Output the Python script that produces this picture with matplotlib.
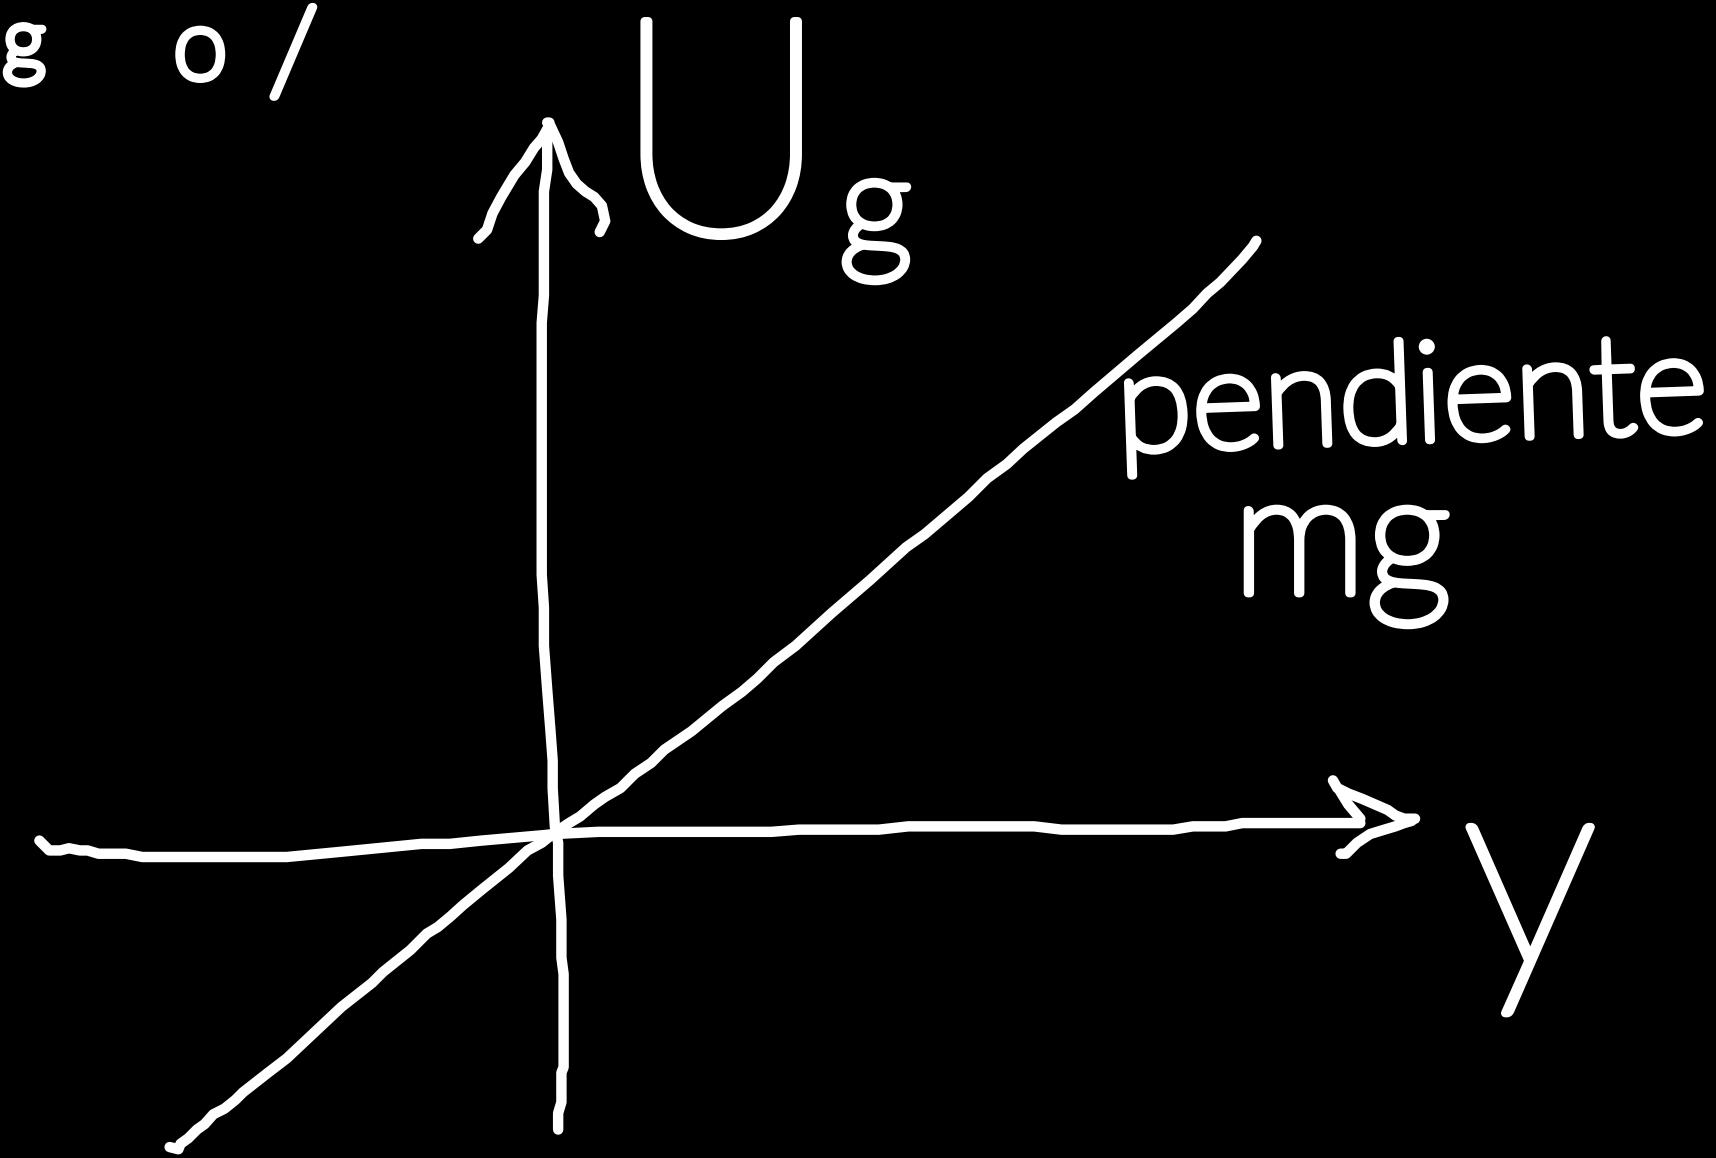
import matplotlib.pyplot as plt
import matplotlib.patheffects as pe
import numpy as np

# hand-drawn strokes, in sketch pixel units (width 1568, height 1058, y down)
vert_x = [510, 510, 513, 513, 515, 515, 513, 513, 510, 510, 507, 505, 505, 503, 500, 497, 497, 495, 495, 497, 497, 497, 500, 500, 502]
vert_y = [1032, 1017, 1007, 980, 975, 890, 875, 840, 800, 770, 755, 720, 695, 668, 630, 590, 555, 525, 295, 270, 222, 175, 155, 127, 112]

vhead_l_x = [437, 445, 450, 458, 470, 480, 488, 495, 500]
vhead_l_y = [218, 210, 195, 180, 160, 148, 135, 127, 118]
vhead_r_x = [500, 503, 510, 515, 520, 527, 535, 543, 550, 553, 548]
vhead_r_y = [112, 115, 130, 145, 158, 168, 175, 180, 188, 202, 212]

horiz_x = [36, 45, 55, 63, 73, 80, 90, 115, 130, 262, 314, 385, 411, 440, 497, 507,
           547, 705, 730, 803, 830, 945, 970, 1072, 1090, 1120, 1135, 1243]
horiz_y = [768, 777, 777, 775, 777, 777, 780, 780, 783, 783, 778, 771, 771, 768, 763, 762,
           760, 760, 758, 758, 755, 755, 758, 758, 755, 755, 752, 752]

hhead_top_x = [1218, 1222, 1232, 1245, 1268, 1275, 1283, 1293]
hhead_top_y = [713, 720, 725, 730, 740, 745, 748, 748]
hhead_in_x = [1224, 1232, 1243]
hhead_in_y = [722, 735, 748]
hhead_low_x = [1225, 1230, 1240, 1252, 1265, 1275, 1283, 1290]
hhead_low_y = [780, 780, 770, 762, 758, 755, 752, 750]

line_x = [155, 163, 165, 172, 180, 187, 195, 205, 215, 222, 245, 262, 312, 340, 350, 375,
          390, 400, 412, 423, 440, 465, 482, 495, 505, 520, 530, 543, 553, 567, 580, 595,
          607, 632, 660, 678, 692, 707, 727, 760, 795, 828, 845, 865, 885, 902, 920, 935,
          950, 965, 982, 1000, 1040, 1075, 1090, 1103, 1115, 1135, 1145, 1148]
line_y = [1048, 1050, 1045, 1040, 1032, 1027, 1018, 1013, 1005, 998, 980, 967, 920, 898, 888, 868,
          853, 847, 837, 827, 813, 793, 777, 770, 762, 752, 746, 735, 728, 720, 707, 697,
          685, 668, 645, 632, 620, 605, 590, 560, 530, 500, 488, 471, 454, 437, 424, 410,
          398, 386, 374, 358, 324, 295, 282, 268, 258, 237, 225, 220]

W, H = 1568, 1058
INK = 'white'
LW = 7.5

fig = plt.figure(figsize=(17.16, 11.58), dpi=100, facecolor='black')
ax = fig.add_axes([0, 0, 1, 1])
ax.set_facecolor('black')
ax.set_xlim(0, W)
ax.set_ylim(H, 0)
ax.axis('off')

strokes = [(vert_x, vert_y), (vhead_l_x, vhead_l_y), (vhead_r_x, vhead_r_y),
           (horiz_x, horiz_y), (hhead_top_x, hhead_top_y), (hhead_in_x, hhead_in_y),
           (hhead_low_x, hhead_low_y), (line_x, line_y)]
for xs, ys in strokes:
    ax.plot(xs, ys, color=INK, lw=LW, solid_capstyle='round', solid_joinstyle='round')

# thin glyphs outlined with a marker-width stroke
marker = [pe.withStroke(linewidth=6, foreground=INK, capstyle='round', joinstyle='round')]
txt = dict(color=INK, family=['Lato', 'DejaVu Sans'], fontweight='light', path_effects=marker)

# vertical axis label U_g
ax.text(659, 213, 'U', fontsize=218, ha='center', va='baseline', **txt)
ax.text(800, 232, 'g', fontsize=104, ha='center', va='baseline', **txt)

# slope note
ax.text(1290, 412, 'pendiente', fontsize=100, ha='center', va='baseline', rotation=2, **txt)
ax.text(1226, 542, 'mg', fontsize=122, ha='center', va='baseline', **txt)

# horizontal axis label
ax.text(1398, 880, 'y', fontsize=200, ha='center', va='baseline', **txt)

# pieces of writing along the top edge
ax.text(22, 8, 'g', fontsize=60, ha='center', va='top', **txt)
ax.text(183, 8, 'o', fontsize=70, ha='center', va='top', **txt)
ax.text(268, 6, '/', fontsize=85, ha='center', va='top', **txt)

fig.savefig('out.png', dpi=100, facecolor='black')
